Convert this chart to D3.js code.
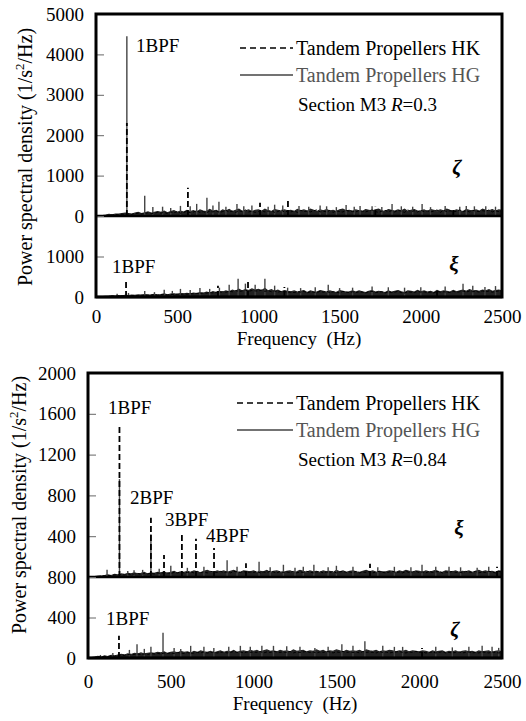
<!DOCTYPE html>
<html>
<head>
<meta charset="utf-8">
<script src="https://cdn.jsdelivr.net/npm/d3@7"></script>
<style>
body { margin: 0; background: #fff; }
svg text { font-family: "Liberation Serif", "Times New Roman", serif; }
</style>
</head>
<body>
<div id="chart"></div>
<script>
// frequency axis (Hz) and spacing of the noise floor samples
var freqTicks = [0, 500, 1000, 1500, 2000, 2500];
var noiseStep = 20;

// y tick labels of each panel
var ticksZetaA = [0, 1000, 2000, 3000, 4000, 5000];
var ticksXiA = [0, 1000];
var ticksXiB = [400, 800, 1200, 1600, 2000];
var ticksZetaB = [0, 400, 800];

// ---- chart A, R=0.3 : zeta (upper panel) ----
var hgZetaA = [
	0, 5, 10, 20, 40, 30, 50, 45, 60, 70,
	60, 50, 70, 90, 60, 80, 100, 70, 90, 110,
	90, 120, 80, 110, 130, 90, 120, 100, 140, 110,
	130, 100, 150, 120, 110, 160, 120, 140, 100, 150,
	120, 160, 110, 140, 170, 120, 130, 150, 110, 140,
	150, 120, 170, 130, 110, 160, 140, 120, 150, 130,
	140, 110, 160, 130, 150, 120, 170, 140, 110, 150,
	130, 160, 120, 140, 110, 150, 170, 130, 140, 120,
	150, 130, 110, 160, 140, 120, 150, 170, 130, 110,
	160, 140, 120, 150, 130, 170, 110, 140, 160, 120,
	130, 150, 110, 160, 140, 120, 150, 130, 170, 140,
	120, 150, 130, 110, 160, 140, 130, 150, 120, 170,
	140, 130, 160, 120, 150, 140];
var hkZetaA = [
	0, 0, 5, 10, 15, 25, 35, 30, 45, 40,
	50, 40, 60, 70, 50, 60, 80, 60, 70, 90,
	70, 90, 60, 100, 80, 110, 70, 90, 120, 80,
	100, 130, 90, 110, 80, 120, 100, 130, 90, 110,
	140, 100, 120, 90, 130, 110, 150, 100, 120, 90,
	110, 140, 100, 120, 130, 90, 110, 150, 100, 120,
	100, 130, 90, 140, 110, 120, 100, 130, 150, 100,
	120, 100, 140, 90, 130, 110, 100, 140, 120, 110,
	100, 140, 120, 100, 130, 150, 110, 90, 120, 140,
	110, 130, 100, 140, 120, 90, 150, 110, 130, 100,
	140, 110, 130, 100, 120, 150, 90, 140, 110, 130,
	100, 120, 150, 110, 130, 100, 140, 120, 110, 130,
	120, 150, 100, 130, 110, 120];
var hgZetaAPeaks = [[190, 4450], [300, 500], [350, 220], [410, 230], [460, 200], [520, 250],
	[580, 240], [620, 300], [683, 450], [720, 260], [757, 350], [800, 230], [868, 300], [910, 240],
	[960, 260], [1060, 230], [1100, 280], [1150, 260], [1250, 250], [1310, 230], [1380, 260],
	[1420, 240], [1480, 220], [1540, 275], [1590, 230], [1626, 250], [1700, 240], [1760, 220],
	[1823, 300], [1880, 240], [1950, 230], [2008, 300], [2060, 220], [2150, 250], [2240, 230],
	[2280, 250], [2330, 240], [2400, 240], [2460, 230]];
var hkZetaAPeaks = [[190, 2300], [566, 700], [1010, 325], [1182, 400], [1720, 230], [2200, 220]];

// ---- chart A, R=0.3 : xi (lower panel) ----
var hgXiA = [
	0, 0, 10, 15, 20, 30, 25, 35, 30, 40,
	35, 45, 40, 50, 45, 60, 50, 55, 65, 50,
	60, 75, 55, 70, 80, 65, 85, 75, 90, 80,
	95, 85, 110, 90, 120, 100, 130, 110, 140, 120,
	150, 130, 170, 140, 190, 150, 180, 160, 200, 170,
	190, 160, 210, 150, 180, 140, 170, 130, 160, 140,
	130, 150, 120, 140, 160, 110, 150, 130, 120, 160,
	140, 120, 150, 130, 110, 160, 140, 120, 130, 150,
	120, 150, 130, 110, 140, 160, 120, 140, 130, 110,
	150, 120, 140, 160, 130, 110, 150, 140, 120, 160,
	130, 150, 120, 140, 110, 160, 130, 150, 140, 120,
	160, 130, 150, 170, 140, 180, 150, 160, 140, 170,
	150, 180, 140, 160, 170, 150];
var hkXiA = [
	0, 0, 5, 10, 15, 20, 20, 25, 30, 30,
	30, 35, 40, 35, 45, 40, 50, 45, 55, 50,
	55, 60, 50, 65, 60, 70, 65, 75, 70, 80,
	80, 90, 85, 100, 95, 110, 100, 120, 110, 130,
	120, 140, 130, 160, 140, 150, 170, 140, 160, 150,
	150, 170, 140, 160, 130, 150, 120, 140, 130, 120,
	120, 110, 130, 120, 140, 100, 130, 120, 110, 140,
	120, 140, 110, 130, 120, 100, 140, 120, 110, 130,
	110, 130, 120, 100, 130, 140, 110, 120, 130, 100,
	130, 110, 120, 140, 110, 100, 130, 120, 110, 140,
	120, 130, 110, 120, 100, 140, 120, 130, 120, 110,
	140, 120, 130, 150, 120, 150, 130, 140, 120, 150,
	130, 150, 120, 140, 150, 130];
var hgXiAPeaks = [[130, 80], [200, 100], [300, 150], [360, 120], [420, 180], [470, 150],
	[520, 200], [580, 170], [640, 220], [700, 200], [760, 230], [820, 300], [875, 450], [920, 330],
	[980, 300], [1040, 450], [1100, 280], [1180, 230], [1260, 220], [1350, 240], [1430, 300],
	[1500, 220], [1580, 230], [1700, 260], [1800, 240], [1900, 230], [2000, 240], [2150, 260],
	[2260, 325], [2320, 280], [2395, 250], [2460, 270]];
var hkXiAPeaks = [[185, 375], [751, 275], [936, 375], [1160, 250], [2100, 220]];

// ---- chart B, R=0.84 : xi (upper panel) ----
var hgXiB = [
	0, 0, 5, 10, 10, 15, 20, 15, 25, 20,
	30, 25, 35, 30, 40, 30, 35, 45, 30, 40,
	35, 45, 40, 50, 35, 45, 55, 40, 50, 45,
	55, 45, 60, 50, 40, 55, 65, 50, 45, 60,
	50, 60, 45, 55, 65, 50, 45, 60, 55, 50,
	60, 45, 55, 50, 65, 45, 55, 60, 50, 45,
	55, 60, 45, 50, 65, 55, 45, 60, 50, 55,
	45, 60, 50, 55, 45, 65, 50, 60, 45, 55,
	60, 50, 45, 55, 65, 50, 60, 45, 55, 50,
	50, 60, 55, 45, 60, 50, 65, 55, 45, 60,
	55, 45, 60, 50, 55, 65, 50, 45, 60, 55,
	50, 60, 45, 55, 50, 60, 45, 55, 65, 50,
	60, 50, 55, 45, 60, 55];
var hkXiB = [
	0, 0, 5, 5, 10, 10, 15, 15, 20, 20,
	25, 20, 30, 25, 30, 35, 25, 35, 30, 35,
	30, 40, 35, 45, 40, 35, 45, 40, 50, 40,
	45, 50, 40, 55, 45, 50, 40, 55, 50, 45,
	55, 45, 50, 40, 55, 50, 45, 55, 40, 50,
	45, 55, 40, 50, 45, 55, 50, 40, 55, 45,
	50, 45, 55, 40, 50, 45, 55, 50, 40, 50,
	55, 40, 50, 45, 55, 40, 50, 55, 45, 50,
	45, 55, 40, 50, 45, 55, 40, 50, 55, 45,
	40, 50, 55, 45, 50, 40, 55, 45, 50, 55,
	45, 50, 40, 55, 45, 50, 55, 40, 50, 45,
	55, 45, 50, 40, 55, 50, 45, 55, 40, 50,
	45, 55, 50, 40, 55, 50];
var hgXiBPeaks = [[115, 70], [190, 960], [240, 60], [278, 65], [330, 70], [380, 420],
	[430, 80], [500, 110], [600, 90], [700, 100], [840, 165], [900, 100], [1033, 150], [1100, 95],
	[1180, 120], [1250, 90], [1300, 100], [1364, 120], [1450, 95], [1500, 110], [1600, 100],
	[1750, 95], [1850, 100], [1950, 95], [2017, 120], [2100, 100], [2180, 100], [2250, 95],
	[2350, 90], [2420, 100]];
var hkXiBPeaks = [[190, 1500], [380, 580], [459, 215], [567, 415], [652, 375], [761, 285],
	[954, 135], [1703, 130], [2470, 100]];

// ---- chart B, R=0.84 : zeta (lower panel) ----
var hgZetaB = [
	0, 5, 10, 15, 10, 20, 15, 25, 20, 30,
	35, 30, 40, 35, 45, 40, 50, 40, 45, 50,
	45, 55, 50, 60, 45, 55, 60, 50, 65, 55,
	60, 50, 65, 55, 70, 60, 55, 65, 50, 60,
	70, 55, 65, 60, 75, 55, 65, 70, 60, 75,
	65, 75, 60, 70, 80, 65, 70, 60, 75, 65,
	70, 60, 80, 65, 70, 75, 60, 70, 65, 80,
	65, 75, 60, 70, 65, 80, 70, 60, 75, 65,
	70, 65, 75, 60, 80, 70, 65, 75, 60, 70,
	65, 75, 70, 60, 70, 65, 75, 60, 70, 65,
	60, 70, 65, 55, 70, 60, 65, 70, 55, 65,
	60, 70, 55, 65, 70, 60, 65, 55, 70, 60,
	65, 70, 55, 65, 70, 60];
var hkZetaB = [
	0, 0, 5, 10, 10, 15, 15, 20, 20, 25,
	30, 25, 35, 30, 35, 40, 35, 40, 35, 45,
	40, 45, 40, 50, 45, 50, 45, 55, 50, 45,
	55, 45, 50, 55, 50, 60, 50, 55, 60, 50,
	55, 60, 50, 55, 65, 55, 60, 50, 60, 55,
	60, 55, 65, 50, 60, 55, 65, 60, 55, 60,
	55, 65, 50, 60, 55, 60, 65, 55, 60, 50,
	60, 55, 65, 60, 50, 60, 55, 65, 55, 60,
	55, 60, 50, 65, 55, 60, 55, 50, 65, 55,
	60, 50, 55, 60, 65, 55, 50, 60, 55, 65,
	55, 60, 50, 55, 60, 50, 55, 65, 50, 55,
	50, 55, 60, 50, 55, 60, 50, 55, 50, 60,
	55, 50, 60, 55, 50, 55];
var hgZetaBPeaks = [[75, 30], [150, 50], [250, 80], [296, 135], [340, 90], [380, 110],
	[453, 250], [520, 100], [560, 90], [620, 120], [700, 110], [760, 100], [850, 110], [920, 120],
	[980, 110], [1050, 120], [1120, 120], [1200, 115], [1280, 110], [1370, 100], [1450, 110],
	[1533, 135], [1600, 120], [1672, 165], [1780, 120], [1850, 110], [1900, 110], [2100, 110],
	[2200, 105], [2300, 110], [2380, 120], [2440, 110], [2480, 100]];
var hkZetaBPeaks = [[187, 220], [2017, 100]];

// the two figures
var charts = [
	{
		left: 96, right: 502, top: 14, bottom: 297, xPad: 13, xTitle: 345, titleX: 32, titleY: 157,
		section: "0.3", legendY: 48, legendX: 240,
		panels: [
			{ top: 14, bottom: 216, max: 5000, ticks: ticksZetaA, hg: hgZetaA, hk: hkZetaA,
				hgPeaks: hgZetaAPeaks, hkPeaks: hkZetaAPeaks, sym: "\u03B6", symX: 457, symY: 174 },
			{ top: 216, bottom: 297, max: 2000, ticks: ticksXiA, hg: hgXiA, hk: hkXiA,
				hgPeaks: hgXiAPeaks, hkPeaks: hkXiAPeaks, sym: "\u03BE", symX: 454, symY: 271 }
		],
		bpf: [["1BPF", 136, 52], ["1BPF", 112, 273]]
	},
	{
		left: 88, right: 502, top: 373, bottom: 658, xPad: 17, xTitle: 710, titleX: 26, titleY: 505,
		section: "0.84", legendY: 403, legendX: 237,
		panels: [
			{ top: 373, bottom: 577, max: 2000, ticks: ticksXiB, hg: hgXiB, hk: hkXiB,
				hgPeaks: hgXiBPeaks, hkPeaks: hkXiBPeaks, sym: "\u03BE", symX: 459, symY: 535 },
			{ top: 577, bottom: 658, max: 800, ticks: ticksZetaB, hg: hgZetaB, hk: hkZetaB,
				hgPeaks: hgZetaBPeaks, hkPeaks: hkZetaBPeaks, sym: "\u03B6", symX: 455, symY: 636 }
		],
		bpf: [["1BPF", 108, 414], ["2BPF", 130, 504], ["3BPF", 165, 526], ["4BPF", 206, 542], ["1BPF", 106, 625]]
	}
];

var svg = d3.select("#chart").append("svg")
	.attr("width", 526)
	.attr("height", 721)
	.attr("font-family", "Liberation Serif, serif");

charts.forEach(function (c) { renderChart(svg, c); });

/**
 * draws one figure: two stacked spectra panels sharing the frequency axis
 */
function renderChart(svg, c)
{
	var x = d3.scaleLinear().domain([0, 2500]).range([c.left, c.right]);

	c.panels.forEach(function (p)
	{
		var y = d3.scaleLinear().domain([0, p.max]).range([p.bottom, p.top]);

		// turn the sample lists into [freq, value] pairs
		var hg = p.hg.map(function (v, i) { return [i * noiseStep, v]; });
		var hk = p.hk.map(function (v, i) { return [i * noiseStep, v]; });

		var area = d3.area()
			.x(function (d) { return x(d[0]); })
			.y0(y(0))
			.y1(function (d) { return y(d[1]); });
		var line = d3.line()
			.x(function (d) { return x(d[0]); })
			.y(function (d) { return y(d[1]); });

		// HG noise floor, solid
		svg.append("path").datum(hg)
			.attr("d", area)
			.attr("fill", "#222");
		svg.append("path").datum(hg)
			.attr("d", line)
			.attr("fill", "none")
			.attr("stroke", "#222")
			.attr("stroke-width", 1.2);

		// HG peaks
		svg.append("g").selectAll("line").data(p.hgPeaks).enter().append("line")
			.attr("x1", function (d) { return x(d[0]); })
			.attr("x2", function (d) { return x(d[0]); })
			.attr("y1", y(0))
			.attr("y2", function (d) { return y(d[1]); })
			.attr("stroke", "#444")
			.attr("stroke-width", 1.4);

		// HK noise floor, dashed
		svg.append("path").datum(hk)
			.attr("d", line)
			.attr("fill", "none")
			.attr("stroke", "#000")
			.attr("stroke-width", 1)
			.attr("stroke-dasharray", "3,2");

		// HK peaks
		svg.append("g").selectAll("line").data(p.hkPeaks).enter().append("line")
			.attr("x1", function (d) { return x(d[0]); })
			.attr("x2", function (d) { return x(d[0]); })
			.attr("y1", y(0))
			.attr("y2", function (d) { return y(d[1]); })
			.attr("stroke", "#000")
			.attr("stroke-width", 1.8)
			.attr("stroke-dasharray", "6,3");

		// panel baseline
		svg.append("line")
			.attr("x1", c.left).attr("x2", c.right)
			.attr("y1", y(0)).attr("y2", y(0))
			.attr("stroke", "#000")
			.attr("stroke-width", 2.5);

		// y axis of the panel, ticks pointing inward
		var g = svg.append("g")
			.attr("transform", "translate(" + c.left + ",0)")
			.call(d3.axisLeft(y).tickValues(p.ticks).tickFormat(d3.format("d"))
				.tickSize(-8).tickPadding(12));
		g.attr("font-family", null).attr("font-size", null);
		g.select(".domain").remove();
		g.selectAll(".tick line").attr("stroke", "#666");
		g.selectAll(".tick text")
			.attr("fill", "#000")
			.attr("font-size", 19);

		// component symbol
		svg.append("text")
			.attr("x", p.symX)
			.attr("y", p.symY)
			.attr("text-anchor", "middle")
			.attr("font-size", 21)
			.attr("font-style", "italic")
			.attr("font-weight", "bold")
			.text(p.sym);
	});

	// frame
	svg.append("rect")
		.attr("x", c.left).attr("y", c.top)
		.attr("width", c.right - c.left)
		.attr("height", c.bottom - c.top)
		.attr("fill", "none")
		.attr("stroke", "#000")
		.attr("stroke-width", 3);

	// frequency axis
	var gx = svg.append("g")
		.attr("transform", "translate(0," + c.bottom + ")")
		.call(d3.axisBottom(x).tickValues(freqTicks).tickFormat(d3.format("d"))
			.tickSize(0).tickPadding(c.xPad));
	gx.attr("font-family", null).attr("font-size", null);
	gx.select(".domain").remove();
	gx.selectAll(".tick text")
		.attr("fill", "#000")
		.attr("font-size", 19);

	svg.append("text")
		.attr("x", (c.left + c.right) / 2)
		.attr("y", c.xTitle)
		.attr("text-anchor", "middle")
		.attr("font-size", 19)
		.style("white-space", "pre")
		.text("Frequency  (Hz)");

	// y title
	var t = svg.append("text")
		.attr("transform", "translate(" + c.titleX + "," + c.titleY + ") rotate(-90)")
		.attr("text-anchor", "middle")
		.attr("font-size", 20);
	t.append("tspan").text("Power spectral density (1/s");
	t.append("tspan").attr("font-size", 13).attr("dy", -8).text("2");
	t.append("tspan").attr("dy", 8).text("/Hz)");

	// BPF labels
	c.bpf.forEach(function (b)
	{
		svg.append("text")
			.attr("x", b[1])
			.attr("y", b[2])
			.attr("font-size", 19)
			.text(b[0]);
	});

	// legend
	var ly = c.legendY;
	svg.append("line")
		.attr("x1", c.legendX).attr("x2", 293)
		.attr("y1", ly).attr("y2", ly)
		.attr("stroke", "#000").attr("stroke-width", 1.5)
		.attr("stroke-dasharray", "6,4");
	svg.append("text")
		.attr("x", 296).attr("y", ly + 7)
		.attr("font-size", 20)
		.text("Tandem Propellers HK");
	svg.append("line")
		.attr("x1", c.legendX).attr("x2", 293)
		.attr("y1", ly + 27).attr("y2", ly + 27)
		.attr("stroke", "#444").attr("stroke-width", 1.5);
	svg.append("text")
		.attr("x", 296).attr("y", ly + 34)
		.attr("font-size", 20)
		.attr("fill", "#555")
		.text("Tandem Propellers HG");
	var s = svg.append("text")
		.attr("x", 298).attr("y", ly + 63)
		.attr("font-size", 19);
	s.append("tspan").text("Section M3 ");
	s.append("tspan").attr("font-style", "italic").text("R");
	s.append("tspan").text("=" + c.section);
}
</script>
</body>
</html>
